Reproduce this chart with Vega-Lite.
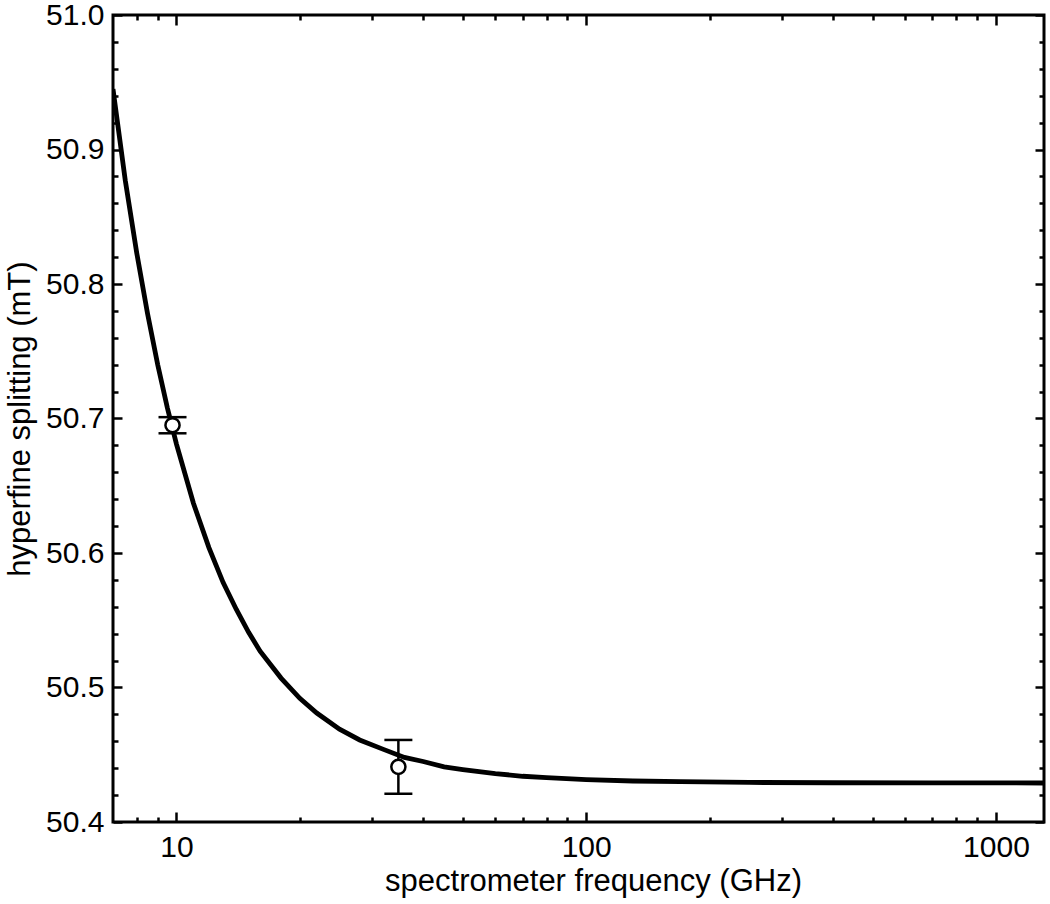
{
  "$schema": "https://vega.github.io/schema/vega-lite/v6.json",
  "width": 931,
  "height": 807,
  "autosize": {"type": "none"},
  "padding": {"left": 113, "top": 15, "right": 6, "bottom": 82},
  "background": "white",
  "config": {
    "view": {"stroke": "black", "strokeWidth": 3},
    "font": "Liberation Sans",
    "axis": {
      "domain": false,
      "grid": false,
      "tickColor": "black",
      "tickWidth": 2.5,
      "labelFont": "Liberation Sans",
      "labelFontSize": 30,
      "labelColor": "black",
      "titleFont": "Liberation Sans",
      "titleFontSize": 31,
      "titleFontWeight": "normal",
      "titleColor": "black"
    }
  },
  "datasets": {
    "curve": [
      {"freq": 7, "split": 50.945},
      {"freq": 7.5, "split": 50.877},
      {"freq": 8, "split": 50.823},
      {"freq": 8.5, "split": 50.778},
      {"freq": 9, "split": 50.74},
      {"freq": 9.5, "split": 50.708},
      {"freq": 10, "split": 50.681},
      {"freq": 11, "split": 50.637},
      {"freq": 12, "split": 50.604},
      {"freq": 13, "split": 50.578},
      {"freq": 14, "split": 50.558},
      {"freq": 15, "split": 50.541},
      {"freq": 16, "split": 50.527},
      {"freq": 18, "split": 50.507},
      {"freq": 20, "split": 50.492},
      {"freq": 22, "split": 50.481},
      {"freq": 25, "split": 50.469},
      {"freq": 28, "split": 50.461},
      {"freq": 32, "split": 50.454},
      {"freq": 36, "split": 50.448},
      {"freq": 40, "split": 50.445},
      {"freq": 45, "split": 50.441},
      {"freq": 50, "split": 50.439},
      {"freq": 60, "split": 50.436},
      {"freq": 70, "split": 50.434},
      {"freq": 80, "split": 50.433},
      {"freq": 100, "split": 50.4315},
      {"freq": 130, "split": 50.4305},
      {"freq": 170, "split": 50.43},
      {"freq": 250, "split": 50.4294},
      {"freq": 400, "split": 50.4292},
      {"freq": 700, "split": 50.4291},
      {"freq": 1310, "split": 50.429}
    ],
    "points": [
      {"freq": 9.78, "split": 50.695, "lo": 50.689, "hi": 50.701},
      {"freq": 34.8, "split": 50.441, "lo": 50.421, "hi": 50.461}
    ]
  },
  "resolve": {"axis": {"x": "independent", "y": "independent"}},
  "layer": [
    {
      "data": {"name": "curve"},
      "mark": {"type": "line", "color": "black", "strokeWidth": 4.8, "clip": true},
      "encoding": {
        "x": {
          "field": "freq", "type": "quantitative",
          "scale": {"type": "log", "domain": [7, 1310], "nice": false},
          "axis": {"orient": "bottom", "values": [10, 100, 1000], "format": "d", "tickSize": -10, "labelPadding": 20, "title": "spectrometer frequency (GHz)", "titlePadding": 4, "titleX": 480}
        },
        "y": {
          "field": "split", "type": "quantitative",
          "scale": {"domain": [50.4, 51.0], "nice": false, "zero": false},
          "axis": {"orient": "left", "values": [50.4, 50.5, 50.6, 50.7, 50.8, 50.9, 51.0], "format": ".1f", "tickSize": -9, "labelPadding": 18, "title": "hyperfine splitting (mT)", "titlePadding": 9}
        }
      }
    },
    {
      "data": {"name": "points"},
      "mark": {"type": "rule", "color": "black", "strokeWidth": 2.5, "opacity": 1},
      "encoding": {
        "x": {"field": "freq", "type": "quantitative", "axis": {"orient": "top", "values": [10, 100, 1000], "tickSize": -10, "labels": false, "title": null}},
        "y": {"field": "lo", "type": "quantitative", "axis": {"orient": "right", "values": [50.4, 50.5, 50.6, 50.7, 50.8, 50.9, 51.0], "tickSize": -9, "labels": false, "title": null}},
        "y2": {"field": "hi"}
      }
    },
    {
      "data": {"name": "points"},
      "mark": {"type": "tick", "orient": "horizontal", "size": 28, "thickness": 2.5, "color": "black", "opacity": 1},
      "encoding": {
        "x": {"field": "freq", "type": "quantitative", "axis": {"orient": "bottom", "values": [8, 9, 20, 30, 40, 50, 60, 70, 80, 90, 200, 300, 400, 500, 600, 700, 800, 900], "tickSize": -5, "labels": false, "title": null}},
        "y": {"field": "lo", "type": "quantitative", "axis": {"orient": "left", "values": [50.42, 50.44, 50.46, 50.48, 50.52, 50.54, 50.56, 50.58, 50.62, 50.64, 50.66, 50.68, 50.72, 50.74, 50.76, 50.78, 50.82, 50.84, 50.86, 50.88, 50.92, 50.94, 50.96, 50.98], "tickSize": -5, "labels": false, "title": null}}
      }
    },
    {
      "data": {"name": "points"},
      "mark": {"type": "tick", "orient": "horizontal", "size": 28, "thickness": 2.5, "color": "black", "opacity": 1},
      "encoding": {
        "x": {"field": "freq", "type": "quantitative", "axis": {"orient": "top", "values": [8, 9, 20, 30, 40, 50, 60, 70, 80, 90, 200, 300, 400, 500, 600, 700, 800, 900], "tickSize": -5, "labels": false, "title": null}},
        "y": {"field": "hi", "type": "quantitative", "axis": {"orient": "right", "values": [50.42, 50.44, 50.46, 50.48, 50.52, 50.54, 50.56, 50.58, 50.62, 50.64, 50.66, 50.68, 50.72, 50.74, 50.76, 50.78, 50.82, 50.84, 50.86, 50.88, 50.92, 50.94, 50.96, 50.98], "tickSize": -5, "labels": false, "title": null}}
      }
    },
    {
      "data": {"name": "points"},
      "mark": {"type": "point", "shape": "circle", "filled": true, "fill": "white", "stroke": "black", "strokeWidth": 2.5, "size": 200, "opacity": 1},
      "encoding": {
        "x": {"field": "freq", "type": "quantitative", "axis": null},
        "y": {"field": "split", "type": "quantitative", "axis": null}
      }
    }
  ]
}
